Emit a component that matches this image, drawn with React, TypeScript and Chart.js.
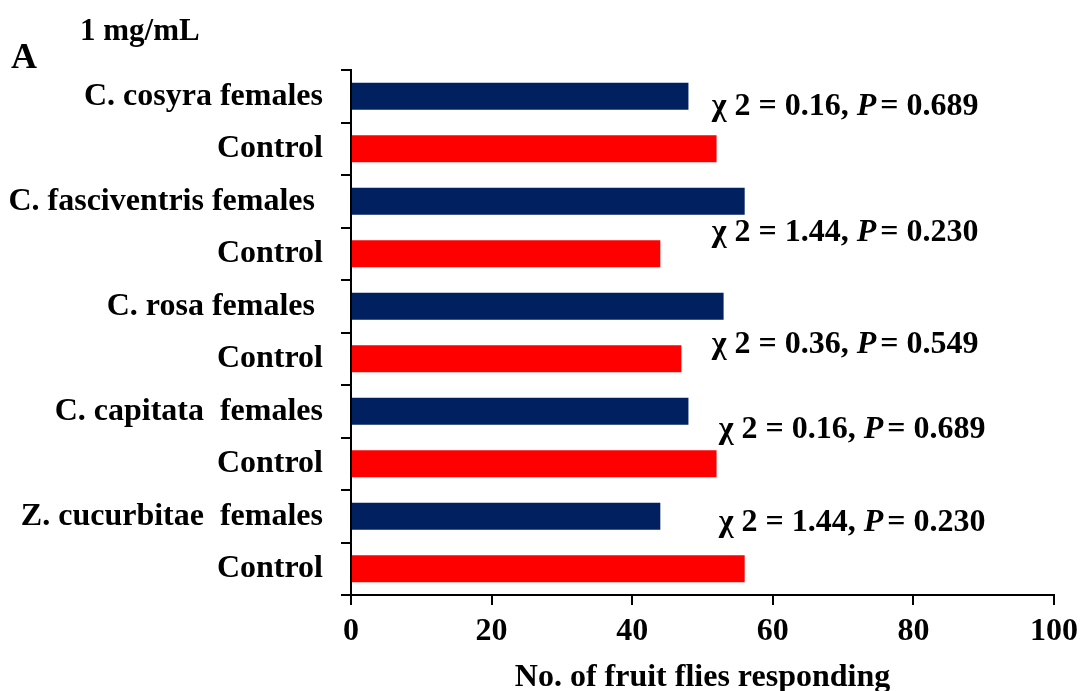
import React, { useEffect, useRef } from 'react';
import { Chart, registerables } from 'chart.js';

Chart.register(...registerables);

// Categories, top to bottom
const categories = [
  'C. cosyra females',
  'Control',
  'C. fasciventris females ',
  'Control',
  'C. rosa females ',
  'Control',
  'C. capitata  females',
  'Control',
  'Z. cucurbitae  females',
  'Control',
];

// Number of flies responding to each arm
const responding = [48, 52, 56, 44, 53, 47, 48, 52, 44, 56];

// Statistics for each pair
const chiSquare = ['0.16', '1.44', '0.36', '0.16', '1.44'];
const pValues = ['0.689', '0.230', '0.549', '0.689', '0.230'];

// Where each statistic sits (x in axis units, y in category-index units)
const noteX = [51.3, 51.3, 51.3, 52.3, 52.3];
const noteY = [0.2, 2.6, 4.74, 6.36, 8.13];

const NAVY = '#002060';
const RED = '#ff0000';
const SERIF = '"Liberation Serif", "Times New Roman", serif';

const notesPlugin = {
  id: 'notes',
  afterDraw(chart: any) {
    const { ctx } = chart;
    const xs = chart.scales.x;
    const ys = chart.scales.y;
    ctx.save();
    ctx.fillStyle = '#000';
    ctx.textBaseline = 'middle';
    ctx.textAlign = 'left';
    const bold = `bold 32px ${SERIF}`;
    const italic = `italic bold 32px ${SERIF}`;
    for (let i = 0; i < chiSquare.length; i++) {
      let x = xs.getPixelForValue(noteX[i]);
      const y = ys.getPixelForValue(noteY[i]);
      const parts: [string, string][] = [
        [`\u03c7 2 = ${chiSquare[i]}, `, bold],
        ['P', italic],
        [`= ${pValues[i]}`, bold],
      ];
      for (const [t, f] of parts) {
        ctx.font = f;
        ctx.fillText(t, x, y);
        x += ctx.measureText(t).width + (t === 'P' ? 4 : 0);
      }
    }
    // Panel letter and concentration
    ctx.textBaseline = 'alphabetic';
    ctx.font = `bold 36px ${SERIF}`;
    ctx.fillText('A', 11, 68);
    ctx.font = `bold 31px ${SERIF}`;
    ctx.fillText('1 mg/mL', 80, 40);
    ctx.restore();
  },
};

export default function App() {
  const ref = useRef<HTMLCanvasElement | null>(null);

  useEffect(() => {
    if (!ref.current) return;
    const chart = new Chart(ref.current, {
      type: 'bar',
      data: {
        labels: categories,
        datasets: [
          {
            data: responding,
            backgroundColor: responding.map((_, i) => (i % 2 === 0 ? NAVY : RED)),
            borderWidth: 0,
            barPercentage: 0.51,
            categoryPercentage: 1,
          },
        ],
      },
      options: {
        indexAxis: 'y',
        responsive: false,
        animation: false,
        devicePixelRatio: 1,
        layout: { padding: { top: 70, right: 29, left: 0, bottom: 0 } },
        plugins: {
          legend: { display: false },
          tooltip: { enabled: false },
        },
        scales: {
          x: {
            type: 'linear',
            min: 0,
            max: 100,
            afterFit: (s: any) => {
              s.height = 96;
            },
            ticks: {
              stepSize: 20,
              color: '#000',
              padding: 8,
              font: { family: SERIF, size: 32, weight: 'bold' },
            },
            grid: {
              drawOnChartArea: false,
              drawTicks: true,
              tickLength: 10,
              color: '#000',
              lineWidth: 2,
            },
            border: { display: true, color: '#000', width: 2 },
            title: {
              display: true,
              text: 'No. of fruit flies responding',
              color: '#000',
              padding: 0,
              font: { family: SERIF, size: 32, weight: 'bold', lineHeight: 0.8 },
            },
          },
          y: {
            type: 'category',
            afterFit: (s: any) => {
              s.width = 351;
            },
            ticks: {
              autoSkip: false,
              color: '#000',
              padding: 18,
              font: { family: SERIF, size: 32, weight: 'bold' },
            },
            grid: {
              offset: true,
              drawOnChartArea: false,
              drawTicks: true,
              tickLength: 10,
              color: '#000',
              lineWidth: 2,
            },
            border: { display: true, color: '#000', width: 2 },
          },
        },
      },
      plugins: [notesPlugin],
    });
    return () => chart.destroy();
  }, []);

  return (
    <div style={{ position: 'absolute', left: 0, top: 0, width: 1086, height: 691, background: '#fff' }}>
      <canvas ref={ref} width={1086} height={691} style={{ display: 'block' }} />
    </div>
  );
}
